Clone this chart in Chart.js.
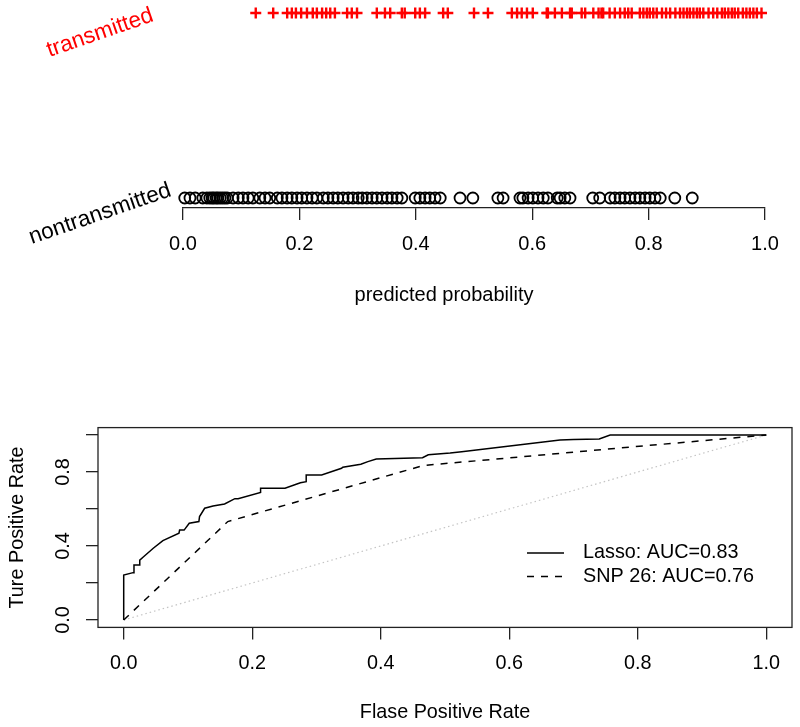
<!DOCTYPE html>
<html><head><meta charset="utf-8">
<script src="https://cdn.jsdelivr.net/npm/chart.js@4.4.1/dist/chart.umd.min.js"></script>
<style>
html,body{margin:0;padding:0;background:#fff;}
#wrap{position:relative;width:800px;height:727px;overflow:hidden;}
#c1{position:absolute;left:0;top:0;}
#c2{position:absolute;left:0;top:330px;}
</style></head><body>
<div id="wrap"><canvas id="c1" width="800" height="330"></canvas><canvas id="c2" width="800" height="397"></canvas></div>
<script>
// ---------- data: top panel (predicted probabilities) ----------
const transmitted = [0.125,0.155,0.179,0.187,0.194,0.203,0.213,0.223,0.230,0.239,0.246,0.253,0.261,0.282,0.290,0.299,
  0.333,0.347,0.356,0.376,0.381,0.399,0.407,0.416,0.447,0.455,0.500,0.524,0.565,0.574,0.582,0.591,0.601,0.625,0.627,
  0.639,0.651,0.665,0.668,0.685,0.691,0.705,0.714,0.719,0.722,0.733,0.742,0.751,0.759,0.765,0.771,0.785,0.791,0.797,0.802,
  0.808,0.814,0.823,0.830,0.837,0.846,0.854,0.860,0.866,0.871,0.877,0.883,0.888,0.894,0.903,0.911,0.918,0.926,0.931,0.937,
  0.943,0.948,0.954,0.962,0.968,0.974,0.980,0.986,0.994];
const nontransmitted = [0.003,0.012,0.021,0.034,0.041,0.046,0.050,0.053,0.057,0.060,0.064,0.068,0.072,0.076,0.086,0.095,
  0.103,0.112,0.120,0.132,0.141,0.149,0.162,0.170,0.179,0.187,0.196,0.204,0.213,0.222,0.230,0.241,0.249,0.258,0.266,
  0.275,0.284,0.292,0.301,0.308,0.316,0.325,0.333,0.342,0.351,0.359,0.368,0.376,0.399,0.407,0.416,0.424,0.433,0.442,
  0.476,0.498,0.541,0.550,0.579,0.584,0.593,0.601,0.610,0.619,0.627,0.643,0.648,0.656,0.665,0.704,0.716,0.734,0.742,
  0.751,0.759,0.768,0.777,0.785,0.794,0.802,0.811,0.820,0.845,0.875];
const groupNames = ['nontransmitted','transmitted'];
const groupColors = ['#000000','#ff0000'];
const probTicks = [0,0.2,0.4,0.6,0.8,1.0];
const probTitle = 'predicted probability';

// ---------- data: bottom panel (ROC) ----------
const lassoFPR = [0,0,0.0145,0.016,0.024,0.025,0.030,0.046,0.061,0.086,0.087,0.094,0.102,0.117,0.118,0.126,0.139,0.157,
  0.173,0.178,0.213,0.213,0.251,0.275,0.284,0.284,0.308,0.339,0.341,0.369,0.380,0.393,0.465,0.474,0.508,0.526,0.679,
  0.700,0.740,0.757,1.0];
const lassoTPR = [0,0.243,0.256,0.297,0.297,0.324,0.339,0.388,0.429,0.469,0.486,0.486,0.523,0.532,0.559,0.604,0.616,0.627,
  0.656,0.656,0.689,0.712,0.712,0.742,0.748,0.784,0.784,0.820,0.826,0.842,0.856,0.870,0.877,0.893,0.903,0.910,0.973,
  0.976,0.978,1.0,1.0];
const snpFPR = [0,0.162,0.466,1.0];
const snpTPR = [0,0.532,0.835,1.0];
const chanceLine = [0,1];
const rocTicks = [0,0.2,0.4,0.6,0.8,1.0];
const rocYLabels = ['0.0','','0.4','','0.8',''];
const seriesNames = ['Lasso: AUC=0.83','SNP 26: AUC=0.76'];
const rocXTitle = 'Flase Positive Rate';
const rocYTitle = 'Ture Positive Rate';

Chart.defaults.font.family = '"Liberation Sans", Arial, Helvetica, sans-serif';
Chart.defaults.color = '#000';
const AX = '#222';

// ---------- top chart ----------
const topText = {
  id: 'topText',
  afterDraw(chart) {
    const ctx = chart.ctx, ys = chart.scales.y, xs = chart.scales.x;
    ctx.save();
    ctx.font = '22.5px "Liberation Sans", Arial, sans-serif';
    ctx.textAlign = 'center'; ctx.textBaseline = 'middle';
    const offs = [16, 20];
    groupNames.forEach((name, i) => {
      ctx.save();
      ctx.translate(100, ys.getPixelForValue(i) + offs[i]);
      ctx.rotate(-19 * Math.PI / 180);
      ctx.fillStyle = groupColors[i];
      ctx.fillText(name, 0, 0);
      ctx.restore();
    });
    ctx.font = '20px "Liberation Sans", Arial, sans-serif';
    ctx.fillStyle = '#000';
    ctx.fillText(probTitle, 444, xs.bottom - 35);
    ctx.restore();
  }
};

new Chart(document.getElementById('c1'), {
  type: 'scatter',
  data: { datasets: [
    { label: groupNames[1], data: transmitted.map(v => ({x: v, y: 1})), pointStyle: 'cross', pointRadius: 5.5,
      borderColor: groupColors[1], backgroundColor: groupColors[1], borderWidth: 2.4, clip: false },
    { label: groupNames[0], data: nontransmitted.map(v => ({x: v, y: 0})), pointStyle: 'circle', pointRadius: 5.5,
      borderColor: groupColors[0], backgroundColor: 'rgba(0,0,0,0)', borderWidth: 1.8, clip: false }
  ]},
  options: {
    responsive: false, animation: false, devicePixelRatio: 1,
    layout: { padding: { left: 183, right: 35, top: 13, bottom: 0 } },
    plugins: { legend: { display: false }, tooltip: { enabled: false } },
    scales: {
      x: { type: 'linear', min: 0, max: 1,
        afterBuildTicks: s => { s.ticks = probTicks.map(v => ({value: v})); },
        afterFit: s => { s.height = 122; },
        border: { display: true, color: AX, width: 1.3 },
        grid: { drawOnChartArea: false, drawTicks: true, tickLength: 12, color: AX, lineWidth: 1.3 },
        ticks: { font: { size: 20 }, padding: 12, maxRotation: 0, autoSkip: false, callback: v => v.toFixed(1) }
      },
      y: { type: 'linear', min: -0.054, max: 1, display: false }
    }
  },
  plugins: [topText]
});

// ---------- bottom chart ----------
const boxAndLegend = {
  id: 'boxAndLegend',
  afterDraw(chart) {
    const ctx = chart.ctx, a = chart.chartArea;
    ctx.save();
    ctx.strokeStyle = AX; ctx.lineWidth = 1.3;
    ctx.strokeRect(a.left, a.top, a.right - a.left, a.bottom - a.top);
    ctx.font = '19.8px "Liberation Sans", Arial, sans-serif';
    ctx.textBaseline = 'middle'; ctx.textAlign = 'left'; ctx.fillStyle = '#000';
    seriesNames.forEach((name, i) => {
      const ds = chart.data.datasets[i];
      const y = 223 + i * 23.5;
      ctx.beginPath();
      ctx.setLineDash(ds.borderDash || []);
      ctx.strokeStyle = ds.borderColor; ctx.lineWidth = ds.borderWidth;
      ctx.moveTo(527, y); ctx.lineTo(564, y); ctx.stroke();
      ctx.setLineDash([]);
      ctx.fillText(name, 583, y);
    });
    ctx.restore();
  }
};

new Chart(document.getElementById('c2'), {
  type: 'scatter',
  data: { datasets: [
    { label: seriesNames[0], data: lassoFPR.map((x, i) => ({x, y: lassoTPR[i]})), showLine: true, tension: 0,
      borderColor: '#000', borderWidth: 1.5, pointRadius: 0 },
    { label: seriesNames[1], data: snpFPR.map((x, i) => ({x, y: snpTPR[i]})), showLine: true, tension: 0,
      borderColor: '#000', borderWidth: 1.5, borderDash: [7, 7], pointRadius: 0 },
    { label: 'chance', data: chanceLine.map(v => ({x: v, y: v})), showLine: true, tension: 0,
      borderColor: '#c4c4c4', borderWidth: 1.2, borderDash: [1.5, 3], pointRadius: 0 }
  ]},
  options: {
    responsive: false, animation: false, devicePixelRatio: 1,
    layout: { padding: { left: 0, right: 8, top: 97.6, bottom: 0 } },
    plugins: { legend: { display: false }, tooltip: { enabled: false } },
    scales: {
      x: { type: 'linear', min: -0.04, max: 1.04,
        afterBuildTicks: s => { s.ticks = rocTicks.map(v => ({value: v})); },
        afterFit: s => { s.height = 99.6; },
        border: { display: false },
        grid: { drawOnChartArea: false, drawTicks: true, tickLength: 12, color: AX, lineWidth: 1.3 },
        ticks: { font: { size: 19.8 }, padding: 12, maxRotation: 0, autoSkip: false, callback: v => v.toFixed(1) },
        title: { display: true, text: rocXTitle, font: { size: 19.8 }, padding: { top: 0, bottom: 2.2 } }
      },
      y: { type: 'linear', min: -0.04, max: 1.04,
        afterBuildTicks: s => { s.ticks = rocTicks.map(v => ({value: v})); },
        afterFit: s => { s.width = 98; },
        border: { display: false },
        grid: { drawOnChartArea: false, drawTicks: true, tickLength: 12, color: AX, lineWidth: 1.3 },
        ticks: { font: { size: 19.8 }, padding: 9, minRotation: 90, maxRotation: 90, crossAlign: 'center', autoSkip: false,
          callback: (v, i) => rocYLabels[i] },
        title: { display: true, text: rocYTitle, font: { size: 19.8 }, padding: { top: 5.8, bottom: 0 } }
      }
    }
  },
  plugins: [boxAndLegend]
});
</script>
</body></html>
